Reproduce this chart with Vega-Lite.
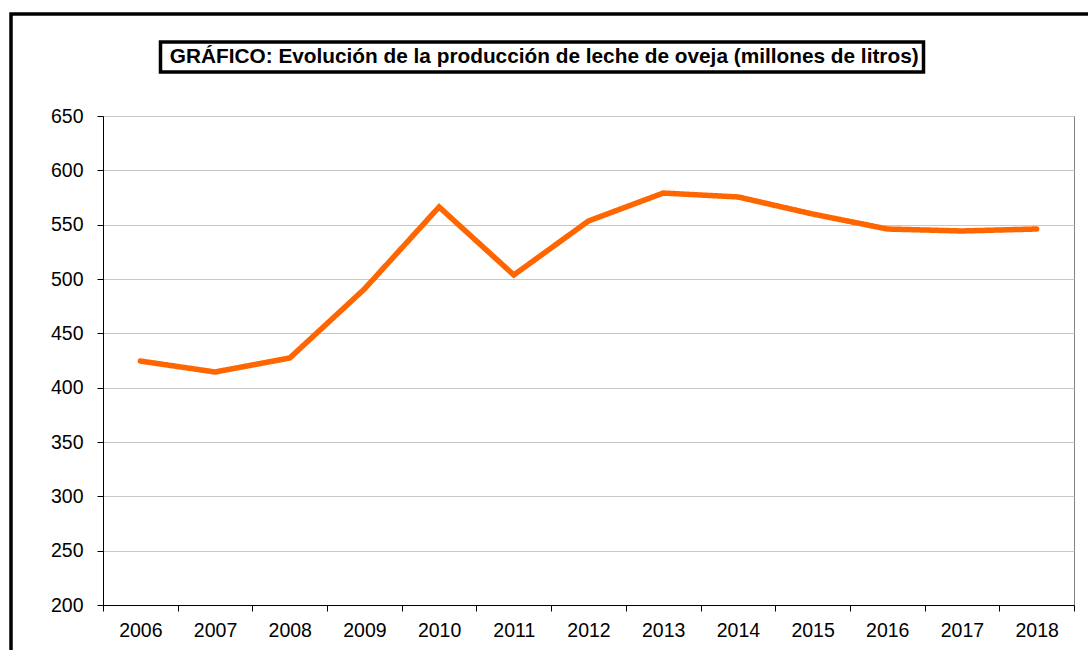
{
  "$schema": "https://vega.github.io/schema/vega-lite/v6.json",
  "width": 971,
  "height": 489,
  "autosize": {"type": "none"},
  "padding": {"left": 103, "top": 116, "right": 14, "bottom": 45},
  "background": "white",
  "config": {
    "font": "Liberation Sans",
    "view": {"stroke": "#808080", "strokeWidth": 1},
    "legend": {"strokeWidth": 3.5}
  },
  "data": {
    "values": [
      {"year": "2006", "value": 424.5, "serie": "GRÁFICO: Evolución de la producción de leche de oveja (millones de litros)", "marco": " "},
      {"year": "2007", "value": 414.4, "serie": "GRÁFICO: Evolución de la producción de leche de oveja (millones de litros)", "marco": " "},
      {"year": "2008", "value": 427.3, "serie": "GRÁFICO: Evolución de la producción de leche de oveja (millones de litros)", "marco": " "},
      {"year": "2009", "value": 490.8, "serie": "GRÁFICO: Evolución de la producción de leche de oveja (millones de litros)", "marco": " "},
      {"year": "2010", "value": 566.3, "serie": "GRÁFICO: Evolución de la producción de leche de oveja (millones de litros)", "marco": " "},
      {"year": "2011", "value": 503.7, "serie": "GRÁFICO: Evolución de la producción de leche de oveja (millones de litros)", "marco": " "},
      {"year": "2012", "value": 553.4, "serie": "GRÁFICO: Evolución de la producción de leche de oveja (millones de litros)", "marco": " "},
      {"year": "2013", "value": 579.1, "serie": "GRÁFICO: Evolución de la producción de leche de oveja (millones de litros)", "marco": " "},
      {"year": "2014", "value": 575.5, "serie": "GRÁFICO: Evolución de la producción de leche de oveja (millones de litros)", "marco": " "},
      {"year": "2015", "value": 559.8, "serie": "GRÁFICO: Evolución de la producción de leche de oveja (millones de litros)", "marco": " "},
      {"year": "2016", "value": 546.0, "serie": "GRÁFICO: Evolución de la producción de leche de oveja (millones de litros)", "marco": " "},
      {"year": "2017", "value": 544.2, "serie": "GRÁFICO: Evolución de la producción de leche de oveja (millones de litros)", "marco": " "},
      {"year": "2018", "value": 546.0, "serie": "GRÁFICO: Evolución de la producción de leche de oveja (millones de litros)", "marco": " "}
    ]
  },
  "mark": {"type": "line", "strokeWidth": 5.5, "strokeCap": "round", "strokeJoin": "miter"},
  "encoding": {
    "x": {
      "field": "year",
      "type": "ordinal",
      "bandPosition": 0.5,
      "scale": {"type": "band", "paddingInner": 0, "paddingOuter": 0},
      "axis": {
        "title": null,
        "labelAngle": 0,
        "tickBand": "extent",
        "domainColor": "black",
        "tickColor": "black",
        "tickSize": 6,
        "labelFontSize": 19.5,
        "labelColor": "black",
        "labelPadding": 10,
        "grid": false
      }
    },
    "y": {
      "field": "value",
      "type": "quantitative",
      "scale": {"domain": [200, 650], "nice": false, "zero": false},
      "axis": {
        "title": null,
        "values": [200, 250, 300, 350, 400, 450, 500, 550, 600, 650],
        "grid": true,
        "gridColor": "#c8c8c8",
        "domainColor": "black",
        "tickColor": "black",
        "tickSize": 6,
        "labelFontSize": 19.5,
        "labelColor": "black",
        "labelPadding": 14
      }
    },
    "color": {
      "field": "serie",
      "type": "nominal",
      "scale": {"range": ["#FF6600"]},
      "legend": {
        "orient": "none",
        "legendX": 57.5,
        "legendY": -74,
        "strokeColor": "black",
        "padding": 4.5,
        "title": null,
        "labelFont": "Liberation Sans",
        "labelFontWeight": "bold",
        "labelFontSize": 20.8,
        "labelColor": "black",
        "labelLimit": 0,
        "labelOffset": -16,
        "symbolSize": 0,
        "symbolStrokeWidth": 0,
        "symbolOpacity": 0
      }
    },
    "strokeDash": {
      "field": "marco",
      "type": "nominal",
      "scale": {"range": [[1, 0]]},
      "legend": {
        "orient": "none",
        "legendX": -92,
        "legendY": -102,
        "strokeColor": "black",
        "padding": 700,
        "title": null,
        "labelFontSize": 1,
        "labelOffset": 0,
        "symbolSize": 0,
        "symbolStrokeWidth": 0,
        "symbolOpacity": 0
      }
    }
  }
}
